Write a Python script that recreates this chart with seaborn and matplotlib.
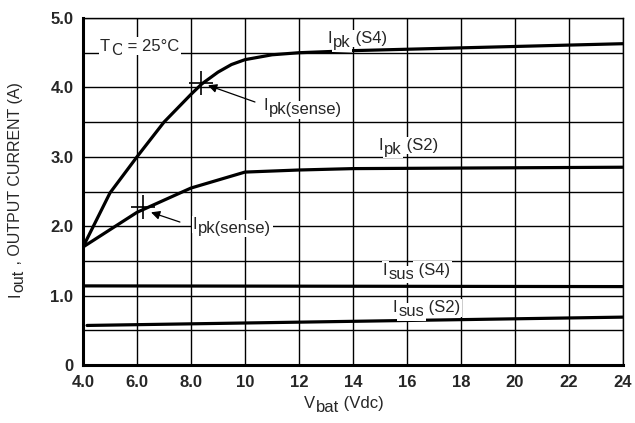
import numpy as np
import pandas as pd
import matplotlib
matplotlib.use("Agg")
import matplotlib.pyplot as plt
import seaborn as sns

# curve data
vbat_pk4 = [4.0, 5.0, 6.0, 7.0, 8.0, 8.4, 9.0, 9.5, 10.0, 11.0, 12.0, 14.0, 24.0]
ipk_s4 = [1.70, 2.48, 3.00, 3.50, 3.90, 4.05, 4.22, 4.33, 4.40, 4.47, 4.50, 4.53, 4.63]
vbat_pk2 = [4.0, 6.0, 8.0, 10.0, 12.0, 14.0, 24.0]
ipk_s2 = [1.70, 2.20, 2.55, 2.78, 2.81, 2.83, 2.85]
vbat_sus4 = [4.0, 24.0]
isus_s4 = [1.14, 1.13]
vbat_sus2 = [4.15, 24.0]
isus_s2 = [0.57, 0.69]

sense_x = [8.37, 6.22]
sense_y = [4.06, 2.28]

x_ticks = [4, 6, 8, 10, 12, 14, 16, 18, 20, 22, 24]
x_labels = ["4.0", "6.0", "8.0", "10", "12", "14", "16", "18", "20", "22", "24"]
y_ticks = [0, 1, 2, 3, 4, 5]
y_labels = ["0", "1.0", "2.0", "3.0", "4.0", "5.0"]

sns.set_theme(style="white")
plt.rcParams["font.family"] = ["Liberation Sans", "DejaVu Sans"]

box = dict(facecolor="white", edgecolor="none", pad=1.0)


def sub_label(ax, xy, coords, main, sub, rest="", rot=0, drop=3.0, fs=12, white=True):
    # main text + lowered subscript (same size as in the datasheet) + rest on the main baseline
    kw = dict(fontsize=fs, zorder=5, annotation_clip=False)
    if white:
        kw["bbox"] = box
    if rot == 0:
        t1 = ax.annotate(main, xy=xy, xycoords=coords, ha="left", va="baseline", **kw)
        t2 = ax.annotate(sub, xy=(1, 0), xycoords=t1, xytext=(0.6, -drop),
                         textcoords="offset points", ha="left", va="bottom", **kw)
        if rest:
            ax.annotate(rest, xy=(1, 0), xycoords=(t2, t1), ha="left", va="bottom", **kw)
    else:
        t1 = ax.annotate(main, xy=xy, xycoords=coords, ha="right", va="bottom",
                         rotation=90, **kw)
        t2 = ax.annotate(sub, xy=(1, 1), xycoords=t1, xytext=(drop, 0.6),
                         textcoords="offset points", ha="right", va="bottom",
                         rotation=90, **kw)
        if rest:
            ax.annotate(rest, xy=(1, 1), xycoords=(t1, t2), ha="right", va="bottom",
                        rotation=90, **kw)


fig = plt.figure(figsize=(6.35, 4.23), dpi=100)
ax = fig.add_axes([0.1307, 0.1371, 0.8503, 0.8203])

curves = pd.concat([
    pd.DataFrame({"v": vbat_pk4, "i": ipk_s4, "c": "pk4"}),
    pd.DataFrame({"v": vbat_pk2, "i": ipk_s2, "c": "pk2"}),
    pd.DataFrame({"v": vbat_sus4, "i": isus_s4, "c": "sus4"}),
    pd.DataFrame({"v": vbat_sus2, "i": isus_s2, "c": "sus2"}),
])
sns.lineplot(data=curves, x="v", y="i", units="c", estimator=None, color="black",
             linewidth=2.3, sort=False, ax=ax, zorder=3)

# sense markers
ax.scatter(sense_x, sense_y, marker="+", s=300, color="black", linewidths=1.2, zorder=4)

ax.set_xlim(4, 24)
ax.set_ylim(0, 5)
ax.set_xticks(x_ticks)
ax.set_xticklabels(x_labels)
ax.set_yticks(y_ticks)
ax.set_yticklabels(y_labels)
ax.set_yticks(np.arange(0, 5.01, 0.5), minor=True)
ax.grid(True, which="major", axis="x", color="black", linewidth=1.0)
ax.grid(True, which="both", axis="y", color="black", linewidth=1.0)
ax.tick_params(axis="both", which="both", length=0, labelsize=12, pad=7)
for t in ax.get_xticklabels() + ax.get_yticklabels():
    t.set_fontweight("bold")

for s in ["left", "bottom"]:
    ax.spines[s].set_linewidth(2.2)
    ax.spines[s].set_color("black")
for s in ["top", "right"]:
    ax.spines[s].set_linewidth(1.0)
    ax.spines[s].set_color("black")

ax.set_xlabel("")
ax.set_ylabel("")

# axis titles
sub_label(ax, (0.478, 0.036), "figure fraction", "V", "bat", " (Vdc)", white=False)
sub_label(ax, (0.036, 0.298), "figure fraction", "I", "out", " , OUTPUT CURRENT (A)",
          rot=90, fs=11.5, drop=2.5, white=False)

# curve labels
sub_label(ax, (4.63, 4.53), "data", "T", "C", " = 25°C", drop=3.5)
sub_label(ax, (13.07, 4.64), "data", "I", "pk", " (S4)")
sub_label(ax, (14.96, 3.10), "data", "I", "pk", " (S2)")
sub_label(ax, (15.11, 1.30), "data", "I", "sus", " (S4)")
sub_label(ax, (15.48, 0.76), "data", "I", "sus", " (S2)")
sub_label(ax, (10.67, 3.67), "data", "I", "pk(sense)")
sub_label(ax, (8.07, 1.96), "data", "I", "pk(sense)")

arrow = dict(arrowstyle="-|>", color="black", lw=0.9, mutation_scale=13, shrinkA=0, shrinkB=0)
ax.annotate("", xy=(8.63, 4.03), xytext=(10.37, 3.79), arrowprops=arrow, zorder=5)
ax.annotate("", xy=(6.52, 2.20), xytext=(7.59, 2.06), arrowprops=arrow, zorder=5)

plt.savefig("out.png", dpi=100)
